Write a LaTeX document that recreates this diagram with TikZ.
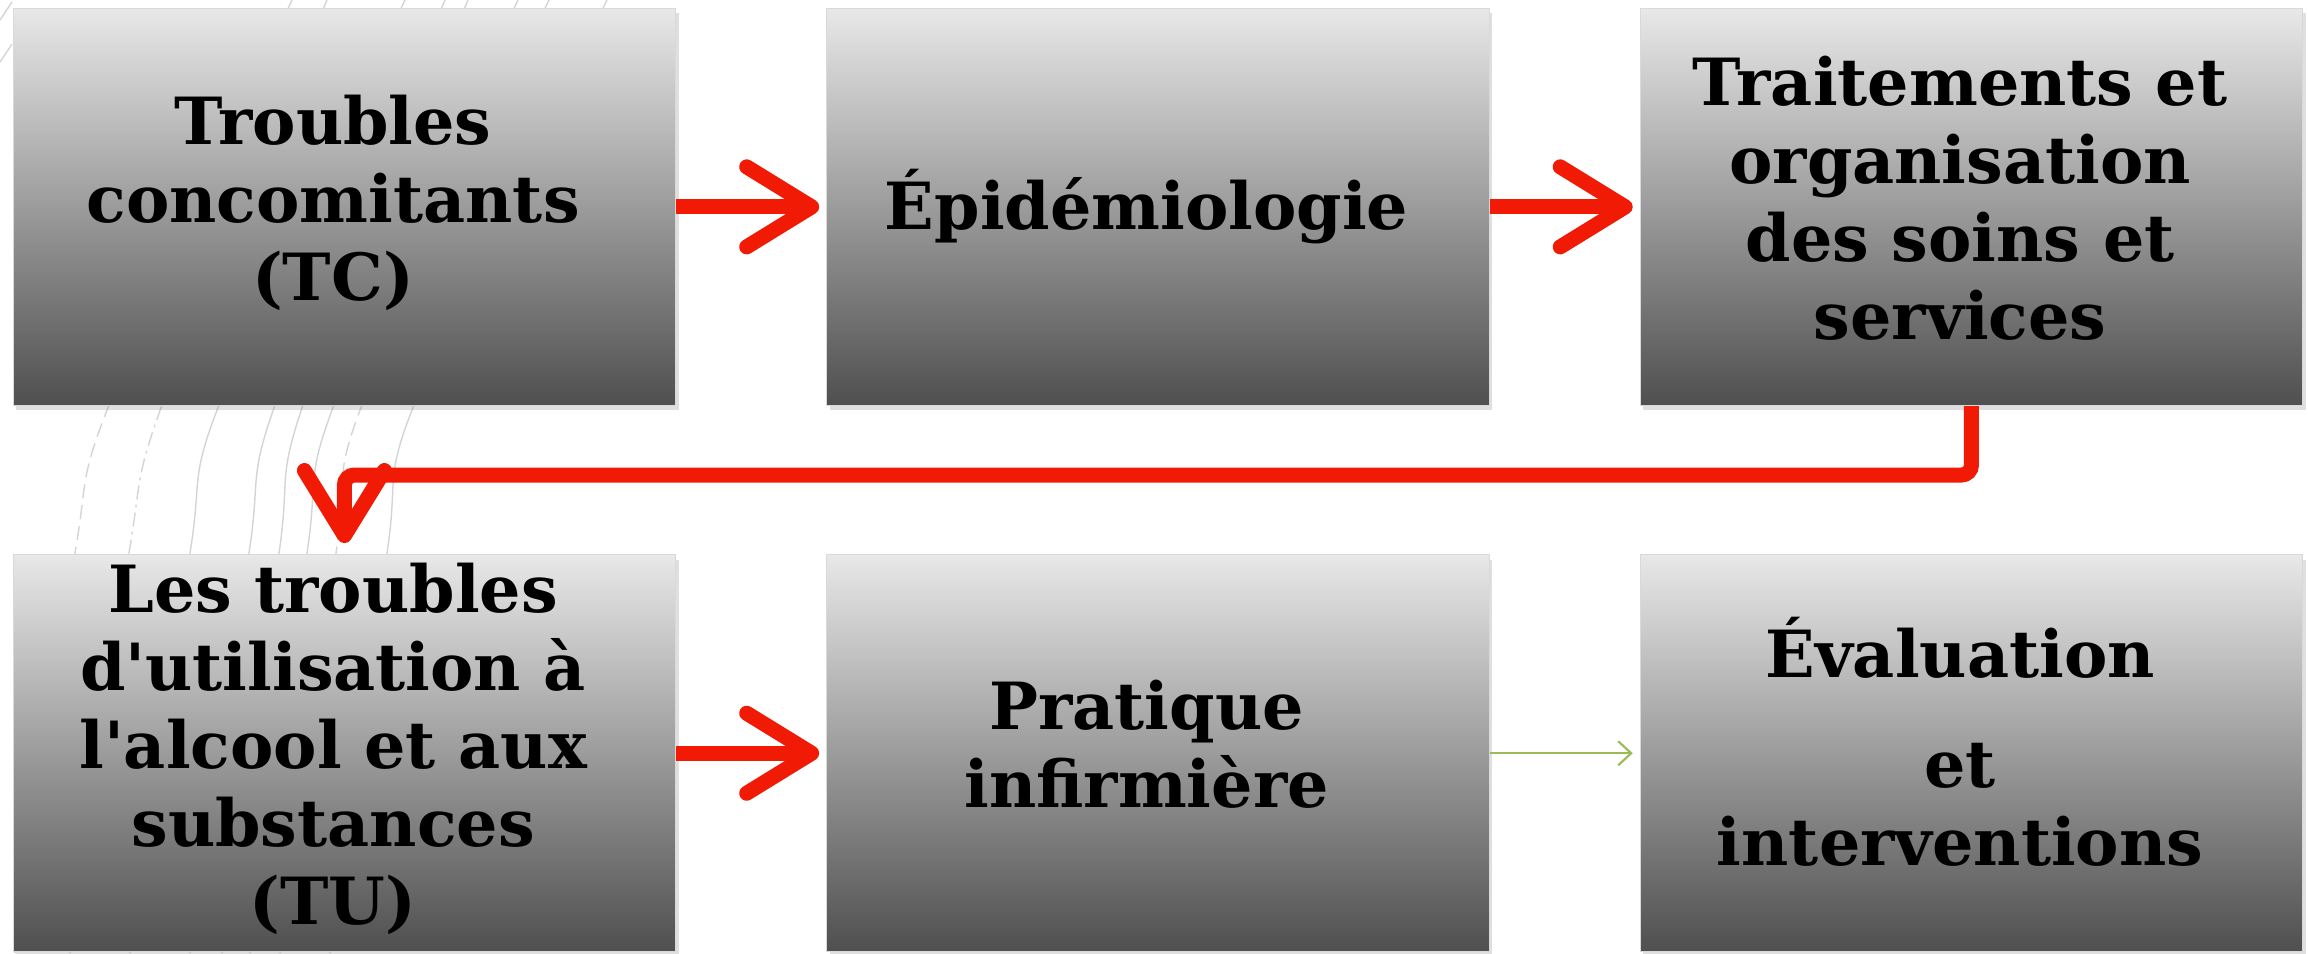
\documentclass[tikz,border=0pt]{standalone}
\usepackage{fontspec}
\setmainfont{DejaVu Serif}[Ligatures=TeXOff]
\usetikzlibrary{matrix,arrows.meta,shadows}
\definecolor{flowred}{RGB}{240,26,5}
\definecolor{flowgreen}{RGB}{155,187,89}
\definecolor{fondligne}{RGB}{212,212,212}
\newcommand{\lignes}[1]{\begin{tabular}{@{}c@{}}#1\end{tabular}}

\begin{document}
\begin{tikzpicture}[x=0.01cm,y=-0.01cm,
	etape/.style={rectangle, minimum width=6.62cm, minimum height=3.97cm, inner sep=0pt,
		top color=black!9, bottom color=black!69, draw=black!15, line width=0.3pt,
		drop shadow={opacity=0.25, shadow xshift=0.3mm, shadow yshift=-0.5mm},
		align=center, font=\fontsize{18.5}{22.2}\selectfont\bfseries},
	fleche/.style={draw=flowred, line width=0.15cm, rounded corners=0.1cm,
		-{Straight Barb[length=6.5mm,width=8mm,round]}},
	tirets/.style={dash pattern=on 4pt off 2pt},
	pointtiret/.style={dash pattern=on 4pt off 1.5pt on 0.8pt off 1.5pt}]
	\useasboundingbox (0,0) rectangle (2308,953);
	\foreach \a/\b/\c/\d/\s in {292/109/75/15/tirets, 327/162/129/70/pointtiret,
		405/219/190/130/solid, 445/275/249/190/solid, 468/303/279/222/solid,
		518/334/307/250/solid, 549/362/336/280/tirets, 607/414/387/330/solid}
	\draw[fondligne, line width=0.4pt, \s] plot[smooth] coordinates {(\a,0) (\b,405) (\c,553) (\d,953)};
	\draw[fondligne, line width=0.4pt] (0,20) -- (12,2) (0,62) -- (12,44);
	\matrix (m) [matrix of nodes, nodes={etape, anchor=center}, column sep=1.5cm, row sep=1.48cm,
		inner sep=0pt, anchor=north west] at (12,7)
	{
		\lignes{Troubles\\concomitants\\(TC)} & Épidémiologie & \lignes{Traitements et\\organisation\\des soins et\\services} \\
		\lignes{Les troubles\\d'utilisation à\\l'alcool et aux\\substances\\(TU)} & \lignes{Pratique\\infirmière} & \lignes{Évaluation\\[9pt]et\\interventions} \\
	};
	\path[fleche, shorten >=0.07cm]
	(m-1-1) edge (m-1-2)
	(m-1-2) edge (m-1-3)
	(m-2-1) edge (m-2-2);
	\draw[fleche, shorten >=0.11cm] (m-1-3.south) -- ++(0,69) -| (m-2-1.north);
	\draw[flowgreen, line width=0.6pt, shorten >=0.07cm,
		-{Straight Barb[length=1.3mm,width=2.4mm]}] (m-2-2) -- (m-2-3);
\end{tikzpicture}
\end{document}
